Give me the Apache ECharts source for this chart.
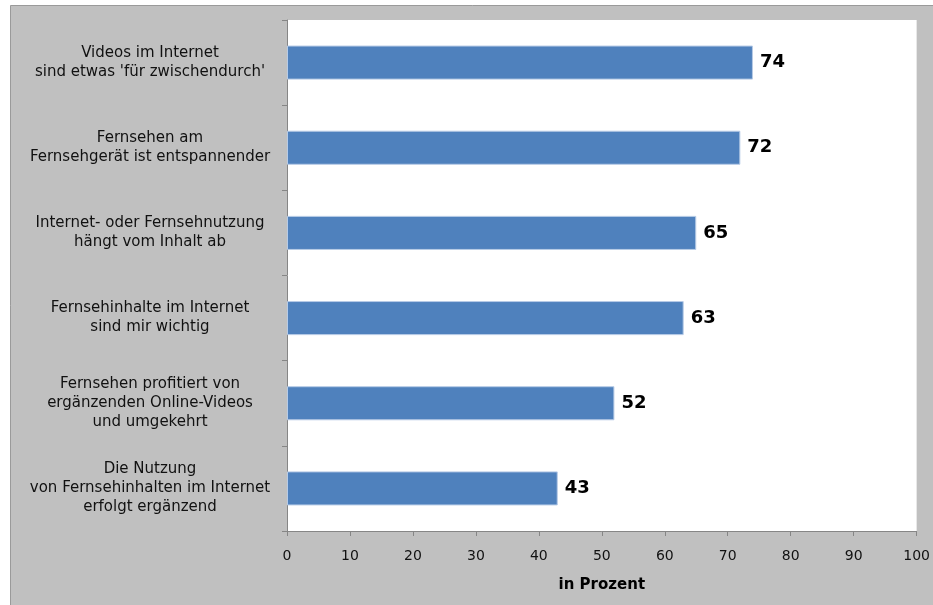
<!DOCTYPE html>
<html>
<head>
<meta charset="utf-8">
<script src="https://cdn.jsdelivr.net/npm/echarts@6/dist/echarts.min.js"></script>
<style>
  html, body { margin: 0; padding: 0; background: #ffffff; }
  #chart { width: 933px; height: 605px; }
</style>
</head>
<body>
<div id="chart"></div>
<script>
// Survey statements (top to bottom) and share of agreement in percent
const categories = [
  "Videos im Internet\nsind etwas 'für zwischendurch'",
  "Fernsehen am\nFernsehgerät ist entspannender",
  "Internet- oder Fernsehnutzung\nhängt vom Inhalt ab",
  "Fernsehinhalte im Internet\nsind mir wichtig",
  "Fernsehen profitiert von\nergänzenden Online-Videos\nund umgekehrt",
  "Die Nutzung\nvon Fernsehinhalten im Internet\nerfolgt ergänzend"
];
const values = [74, 72, 65, 63, 52, 43];
const axisTitle = "in Prozent";

const chart = echarts.init(document.getElementById('chart'), null, { renderer: 'canvas' });
const font = "'DejaVu Sans', Verdana, sans-serif";

chart.setOption({
  animation: false,
  backgroundColor: '#ffffff',
  graphic: [{
    type: 'rect',
    z: -10,
    shape: { x: 10.5, y: 5.5, width: 940, height: 620 },
    style: { fill: '#c0c0c0', stroke: '#9a9a9a', lineWidth: 1 }
  }],
  grid: {
    left: 287, right: 16, top: 20, bottom: 74,
    show: true, backgroundColor: '#ffffff', borderWidth: 0
  },
  xAxis: {
    type: 'value',
    min: 0, max: 100, interval: 10,
    name: axisTitle,
    nameLocation: 'middle',
    nameGap: 47,
    nameTextStyle: { fontFamily: font, fontSize: 15, fontWeight: 'bold', color: '#000' },
    axisLine: { show: true, lineStyle: { color: '#868686', width: 1 } },
    axisTick: { show: true, length: 5, lineStyle: { color: '#868686' } },
    axisLabel: { fontFamily: font, fontSize: 14, color: '#111', margin: 18 },
    splitLine: { show: false }
  },
  yAxis: {
    type: 'category',
    data: categories,
    inverse: true,
    axisLine: { show: true, lineStyle: { color: '#868686', width: 1 } },
    axisTick: { show: true, length: 5, lineStyle: { color: '#868686' } },
    axisLabel: {
      fontFamily: font, fontSize: 15, color: '#111',
      align: 'center', margin: 137, lineHeight: 19
    }
  },
  series: [{
    type: 'bar',
    data: values,
    barWidth: '40%',
    itemStyle: { color: '#4f81bd', borderColor: '#b7cbe6', borderWidth: 1 },
    label: {
      show: true, position: 'right', distance: 7,
      fontFamily: font, fontSize: 18, fontWeight: 'bold', color: '#000'
    }
  }]
});
</script>
</body>
</html>
